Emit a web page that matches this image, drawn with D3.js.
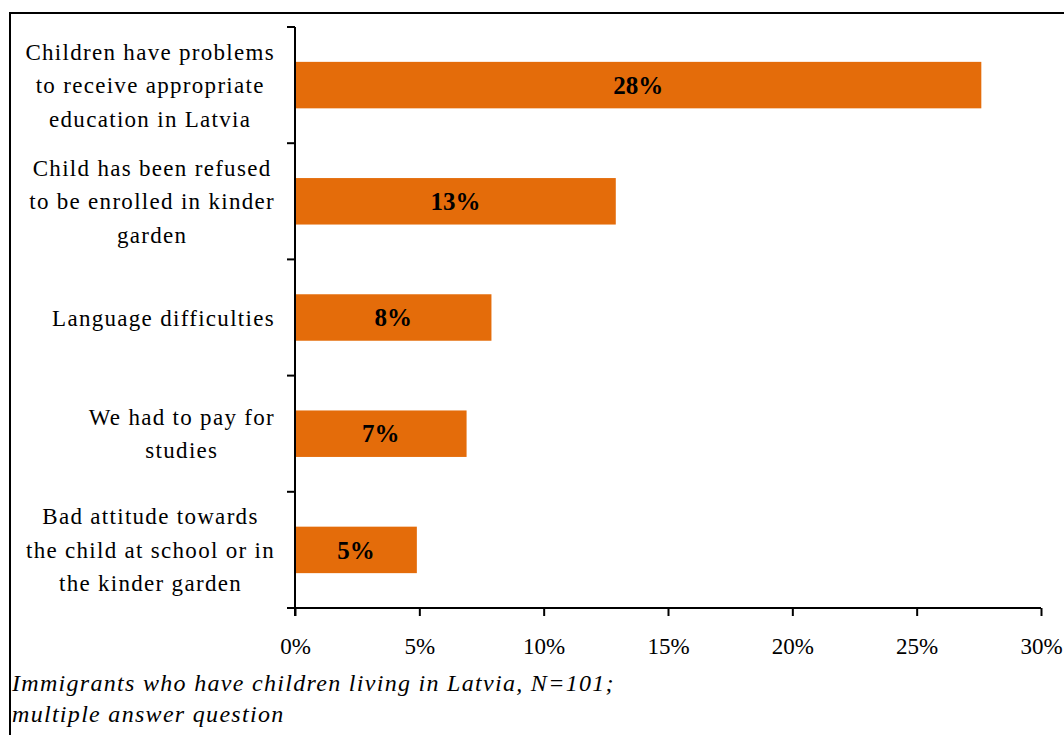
<!DOCTYPE html>
<html>
<head>
<meta charset="utf-8">
<script src="https://cdn.jsdelivr.net/npm/d3@7"></script>
<style>
  html, body { margin: 0; padding: 0; background: #fff; }
  svg { display: block; }
  text { font-family: "Liberation Serif", "Times New Roman", serif; fill: #000; }
</style>
</head>
<body>
<svg id="chart" width="1064" height="735"></svg>
<script>
// Problems faced by immigrants' children in education (share of respondents)
const categories = [
  "Children have problems\nto receive appropriate\neducation in Latvia",
  "Child has been refused\nto be enrolled in kinder\ngarden",
  "Language difficulties",
  "We had to pay for\nstudies",
  "Bad attitude towards\nthe child at school or in\nthe kinder garden"
];
const values = [0.276, 0.129, 0.079, 0.069, 0.049];
const tickValues = [0, 0.05, 0.10, 0.15, 0.20, 0.25, 0.30];
const footnoteLines = [
  "Immigrants who have children living in Latvia, N=101;",
  "multiple answer question"
];

const svg = d3.select("#chart");
const plot = { left: 295, right: 1041, top: 27, bottom: 608 };
const labelFont = 23;
const barColor = "#E46C0A";

// Outer frame (runs past the right and bottom edges)
svg.append("rect")
  .attr("x", 10).attr("y", 13)
  .attr("width", 1100).attr("height", 800)
  .attr("fill", "none").attr("stroke", "#000").attr("stroke-width", 2);

const x = d3.scaleLinear().domain([0, 0.30]).range([plot.left, plot.right]);
const y = d3.scaleBand().domain(categories)
  .range([plot.top, plot.bottom])
  .paddingInner(0.6).paddingOuter(0.3);

// Bars
svg.append("g").selectAll("rect")
  .data(categories)
  .join("rect")
  .attr("x", x(0))
  .attr("y", d => y(d))
  .attr("width", (d, i) => x(values[i]) - x(0))
  .attr("height", y.bandwidth())
  .attr("fill", barColor);

// Value labels inside bars
svg.append("g").selectAll("text")
  .data(categories)
  .join("text")
  .attr("x", (d, i) => (x(0) + x(values[i])) / 2)
  .attr("y", d => y(d) + y.bandwidth() / 2)
  .attr("dy", "0.35em")
  .attr("text-anchor", "middle")
  .style("font-size", "25px")
  .style("font-weight", "bold")
  .text((d, i) => d3.format(".0%")(values[i]));

// X axis
const xAxis = d3.axisBottom(x)
  .tickValues(tickValues)
  .tickFormat(d3.format(".0%"))
  .tickSize(8)
  .tickSizeOuter(0)
  .tickPadding(22);
const gx = svg.append("g")
  .attr("transform", `translate(0,${plot.bottom})`)
  .call(xAxis);
gx.select(".domain").attr("stroke", "#000").attr("stroke-width", 2)
  .attr("d", `M${plot.left - 8},0H${plot.right}`);
gx.selectAll(".tick line").attr("stroke", "#000").attr("stroke-width", 2);
gx.selectAll(".tick text")
  .style("font-family", "'Liberation Serif', 'Times New Roman', serif")
  .style("font-size", "23px")
  .attr("fill", "#000");

// Y axis line with tick marks at category boundaries
const step = y.step();
const boundaries = categories.map(c => y(c) - step * y.paddingInner() / 2);
boundaries.push(plot.bottom);
const gy = svg.append("g");
gy.append("line")
  .attr("x1", plot.left).attr("x2", plot.left)
  .attr("y1", plot.top).attr("y2", plot.bottom + 8)
  .attr("stroke", "#000").attr("stroke-width", 2);
gy.selectAll("line.tick")
  .data(boundaries)
  .join("line")
  .attr("class", "tick")
  .attr("x1", plot.left - 8).attr("x2", plot.left)
  .attr("y1", d => d).attr("y2", d => d)
  .attr("stroke", "#000").attr("stroke-width", 2);

// Category labels: wrapped lines centred on each other, block right-aligned
const labelRight = 275;
const lineGap = 33.5;
const gl = svg.append("g");
categories.forEach(cat => {
  const lines = cat.split("\n");
  const cy = y(cat) + y.bandwidth() / 2;
  const t = gl.append("text")
    .attr("text-anchor", "middle")
    .style("font-size", labelFont + "px")
    .style("letter-spacing", "1.3px");
  lines.forEach((ln, i) => {
    t.append("tspan")
      .attr("y", cy + (i - (lines.length - 1) / 2) * lineGap + 8)
      .text(ln);
  });
  const tsp = t.selectAll("tspan").nodes();
  const maxW = d3.max(tsp, n => n.getComputedTextLength());
  t.selectAll("tspan").attr("x", labelRight - maxW / 2);
});

// Footnote
svg.append("g").selectAll("text")
  .data(footnoteLines)
  .join("text")
  .attr("x", 12)
  .attr("y", (d, i) => 691 + i * 31)
  .style("font-size", "24px")
  .style("font-style", "italic")
  .style("letter-spacing", "1.3px")
  .text(d => d);
</script>
</body>
</html>
